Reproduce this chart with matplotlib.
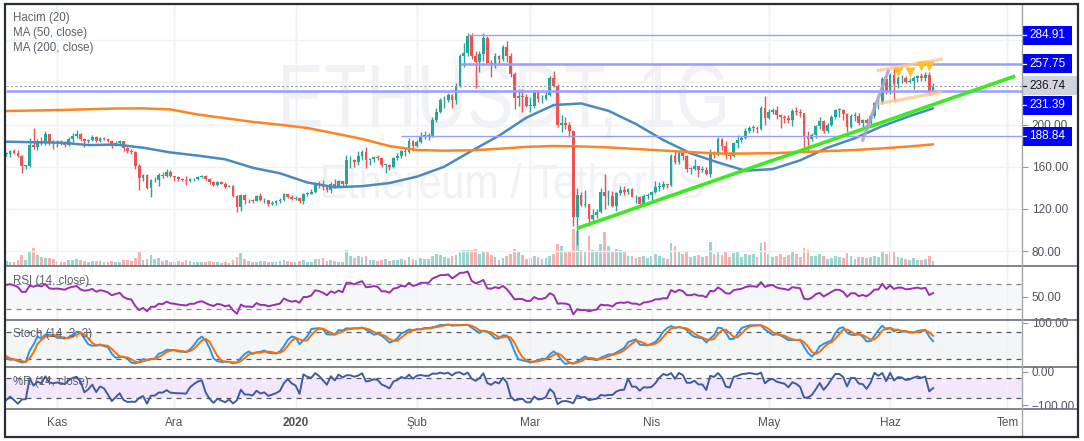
import numpy as np
import pandas as pd
import matplotlib
matplotlib.use("Agg")
import matplotlib.pyplot as plt
import matplotlib.dates as mdates
from matplotlib.patches import Rectangle, PathPatch
from matplotlib.lines import Line2D
from matplotlib.textpath import TextPath
from matplotlib.font_manager import FontProperties
from matplotlib.transforms import Affine2D

plt.rcParams['font.family'] = ['Liberation Sans', 'DejaVu Sans']

# ---- daily ETH/USDT candles, 2019-09-29 .. 2020-06-12 (first 20 days only warm up the indicators)
first_open = 174
close = [169, 180,
         175, 180, 174, 176, 176, 170, 180, 180, 193, 191, 181, 180, 181, 186, 180, 175, 177, 172,
         172, 175, 173, 170, 161, 161, 181, 179, 184, 182, 191, 183, 182,
         183, 182, 181, 186, 189, 191, 186, 184, 185, 188, 184, 187, 186, 184, 180, 182, 184, 178,
         175, 174, 161, 149, 152, 140, 147, 147, 152, 151, 155, 151,
         150, 148, 147, 146, 148, 148, 150, 151, 148, 145, 143, 145, 144, 141, 142, 132, 122, 133,
         128, 128, 127, 132, 128, 128, 125, 126, 127, 128, 134, 131, 129,
         130, 127, 134, 134, 136, 144, 143, 141, 138, 144, 142, 146, 144, 166, 166, 164, 170, 174,
         166, 167, 169, 168, 162, 162, 160, 168, 170, 175, 174, 184, 180,
         183, 189, 189, 189, 204, 212, 223, 223, 228, 223, 237, 265, 268, 284, 265, 259, 267, 282,
         258, 257, 265, 262, 274, 265, 248, 225, 227, 226, 218,
         218, 231, 224, 224, 228, 244, 237, 200, 201, 200, 194, 112, 133, 124, 125, 110, 114, 117,
         136, 132, 132, 123, 135, 138, 136, 139, 131, 131, 125, 132, 133,
         136, 141, 141, 144, 143, 170, 164, 173, 170, 158, 158, 161, 157, 157, 153, 172, 171, 186,
         180, 171, 170, 182, 185, 187, 194, 197, 197, 196, 216, 206,
         212, 214, 209, 207, 206, 204, 213, 212, 211, 188, 186, 190, 199, 203, 194, 200, 207, 214,
         214, 210, 198, 208, 208, 201, 204, 201, 208, 220, 220, 243, 231,
         247, 238, 244, 244, 240, 241, 244, 246, 244, 247, 231, 236.74]
high = [174, 181,
        184, 180, 180, 177, 177, 177, 183, 184, 195, 196, 194, 184, 183, 188, 187, 181, 178, 178,
        174, 176, 177, 176, 171, 162, 187, 197, 186, 188, 194, 191, 185,
        185, 185, 184, 188, 192, 195, 192, 187, 186, 190, 189, 188, 188, 187, 185, 184, 185, 184,
        179, 177, 175, 163, 153, 153, 148, 150, 154, 155, 158, 157,
        151, 151, 149, 151, 149, 149, 151, 152, 152, 149, 146, 146, 146, 145, 143, 143, 133, 134,
        134, 129, 129, 133, 135, 130, 128, 127, 128, 130, 135, 134, 133,
        132, 131, 135, 136, 139, 145, 146, 147, 141, 145, 148, 147, 146, 171, 170, 167, 175, 176,
        179, 168, 170, 171, 168, 163, 163, 169, 173, 176, 177, 187, 185,
        185, 193, 194, 192, 207, 216, 225, 227, 230, 229, 239, 267, 277, 287, 287, 270, 270, 287,
        284, 261, 268, 266, 275, 279, 268, 250, 234, 234, 229,
        226, 233, 233, 228, 232, 246, 251, 238, 209, 207, 202, 195, 140, 136, 138, 125, 120, 120,
        140, 153, 138, 137, 136, 142, 142, 140, 140, 133, 132, 134, 135,
        137, 146, 145, 146, 144, 172, 175, 175, 173, 171, 160, 167, 161, 161, 160, 177, 175, 188,
        187, 184, 174, 183, 190, 189, 197, 199, 200, 199, 218, 227,
        215, 216, 218, 210, 209, 209, 215, 217, 215, 211, 194, 192, 200, 207, 204, 201, 209, 215,
        216, 215, 211, 210, 212, 211, 205, 206, 210, 221, 224, 245, 246,
        249, 254, 246, 247, 246, 244, 246, 247, 249, 250, 250, 239]
low = [166, 165,
       174, 174, 171, 171, 173, 168, 168, 178, 178, 186, 179, 179, 178, 180, 178, 172, 174, 169,
       170, 169, 172, 169, 154, 158, 160, 177, 176, 181, 181, 181, 177,
       179, 181, 179, 180, 183, 187, 184, 179, 182, 184, 183, 183, 185, 183, 178, 180, 181, 175,
       173, 172, 158, 138, 146, 139, 131, 145, 142, 149, 150, 150,
       146, 146, 146, 143, 145, 146, 147, 149, 147, 144, 142, 142, 144, 140, 141, 131, 117, 118,
       125, 126, 126, 127, 127, 126, 123, 124, 124, 126, 127, 130, 128,
       128, 126, 125, 132, 134, 135, 140, 138, 136, 135, 140, 141, 142, 143, 159, 160, 162, 166,
       159, 162, 164, 166, 160, 154, 157, 159, 166, 168, 170, 173, 175,
       179, 182, 186, 185, 188, 202, 211, 216, 221, 216, 219, 236, 255, 265, 262, 235, 250, 260,
       257, 245, 254, 257, 260, 259, 245, 215, 218, 212, 217,
       212, 216, 221, 220, 223, 227, 236, 198, 193, 196, 188, 104, 86, 123, 122, 104, 108, 111,
       116, 120, 124, 122, 118, 133, 133, 134, 131, 126, 124, 124, 129,
       128, 135, 137, 139, 140, 142, 163, 163, 166, 155, 153, 157, 150, 155, 152, 150, 168, 170,
       176, 167, 167, 169, 178, 183, 186, 192, 193, 192, 195, 200,
       205, 210, 205, 197, 201, 201, 199, 209, 207, 177, 174, 184, 187, 196, 192, 192, 199, 205,
       207, 204, 193, 197, 203, 200, 198, 198, 200, 206, 215, 219, 229,
       229, 223, 235, 239, 239, 239, 234, 240, 241, 241, 228, 229]
volume = [6, 8,
          7, 6, 5, 5, 4, 6, 7, 10, 9, 7, 5, 5, 6, 6, 6, 4, 5, 5,
          5, 4, 4, 6, 11, 6, 14, 18, 11, 9, 8, 8, 7,
          5, 4, 4, 6, 6, 7, 6, 5, 4, 5, 5, 5, 4, 4, 5, 4, 4, 6,
          6, 5, 8, 15, 6, 7, 11, 7, 8, 5, 6, 4,
          4, 5, 4, 6, 5, 4, 4, 4, 4, 5, 4, 4, 3, 4, 3, 6, 9, 13,
          7, 5, 4, 4, 5, 5, 4, 4, 4, 5, 6, 5, 4,
          4, 5, 6, 4, 4, 7, 7, 8, 5, 6, 5, 4, 4, 16, 10, 8, 10, 9,
          10, 6, 6, 5, 6, 7, 5, 6, 6, 7, 6, 9, 7,
          6, 8, 7, 7, 10, 12, 11, 9, 8, 10, 11, 15, 16, 16, 16, 17, 12, 14,
          14, 11, 9, 6, 8, 10, 12, 17, 14, 11, 7,
          8, 10, 9, 7, 8, 10, 12, 22, 20, 15, 14, 37, 35, 16, 14, 30, 16, 14,
          22, 34, 20, 14, 17, 16, 14, 10, 10, 8, 9, 10, 8,
          10, 12, 10, 8, 7, 23, 20, 14, 12, 15, 9, 10, 11, 9, 10, 24, 12, 14,
          11, 14, 9, 13, 15, 9, 12, 11, 12, 9, 23, 24,
          12, 9, 10, 12, 9, 11, 14, 12, 9, 18, 16, 10, 10, 12, 10, 7, 8, 10,
          9, 8, 13, 10, 7, 9, 9, 8, 9, 10, 9, 15, 12,
          14, 15, 9, 8, 7, 6, 8, 6, 6, 7, 10, 5]

# moving averages, one point a week
ma50 = [183.7, 183.2, 182.8, 180.5, 181, 178, 173.5, 170.5, 167, 159, 153.7, 145, 140.5, 141.5,
        144.5, 150.5, 160, 175, 189.4, 206.5, 218.5, 220, 213, 200.5, 185.3, 172.7, 164, 156.2,
        157.7, 166, 178, 187, 198.5, 208, 215.4]
ma200 = [212.8, 213.3, 213.8, 214.5, 215.2, 215.3, 214.3, 209.5, 206, 202.5, 199.8, 196.7, 191.6,
         186.3, 179.6, 175.8, 175.2, 175.5, 177, 178.8, 179.6, 179.2, 178.3, 176.8, 175.3, 173.8,
         172.5, 172.5, 172.8, 173.8, 174.8, 175.8, 177.4, 179.2, 181.2]

# drawings on the chart
levels = [284.91, 257.75, 231.39, 188.84]
level_from = ['2020-02-14', '2020-02-12', None, '2020-01-28']
trend_pts = [('2020-03-13', 101.5), ('2020-07-03', 246.0)]
chan_upper = [('2020-05-29', 251.3), ('2020-06-14', 261.9)]
chan_lower = [('2020-05-29', 219.8), ('2020-06-14', 230.6)]
pole_pts = [('2020-05-25', 185.3), ('2020-05-31 12:00', 250.5)]
top_dates = ['2020-06-03', '2020-06-06', '2020-06-09', '2020-06-11']
top_prices = [250.3, 250.3, 255.8, 255.8]

month_ticks = ['2019-11-01', '2019-12-01', '2020-01-01', '2020-02-01', '2020-03-01',
               '2020-04-01', '2020-05-01', '2020-06-01', '2020-07-01']
month_labels = ['Kas', 'Ara', '2020', 'Şub', 'Mar', 'Nis', 'May', 'Haz', 'Tem']

# ---- series
dates = pd.date_range('2019-09-29', periods=len(close), freq='D')
x = mdates.date2num(dates)
c = np.array(close, float)
h = np.array(high, float)
l = np.array(low, float)
o = np.concatenate([[first_open], c[:-1]])
v = np.array(volume, float)
up = c >= o
ma_x = mdates.date2num(list(pd.date_range('2019-10-19', '2020-06-06', freq='7D')) +
                       [pd.Timestamp('2020-06-12')])

cs = pd.Series(c)
d = cs.diff()
gain = d.clip(lower=0).ewm(alpha=1 / 14, adjust=False).mean()
loss = (-d.clip(upper=0)).ewm(alpha=1 / 14, adjust=False).mean()
rsi = 100 - 100 / (1 + gain / loss)
hh = pd.Series(h).rolling(14).max()
ll = pd.Series(l).rolling(14).min()
k_raw = 100 * (cs - ll) / (hh - ll)
stoch_k = k_raw.rolling(3).mean()
stoch_d = stoch_k.rolling(3).mean()
will_r = -100 * (hh - cs) / (hh - ll)

def dn(s):
    return mdates.date2num(pd.Timestamp(s))

# ---- layout in pixels
W, H = 1084, 441
fig = plt.figure(figsize=(W / 100, H / 100), dpi=100)
L, R = 5.5, 1022

def rect(y0, y1, x0=L, x1=R):
    return [x0 / W, 1 - y1 / H, (x1 - x0) / W, (y1 - y0) / H]

ppd = 3.911
xl = dn('2019-10-19') - 0.7 / ppd
xr = xl + (R - L) / ppd
px_per_usd = 1.054
p_top = 80 + (251 - 4) / px_per_usd
p_bot = 80 - (266 - 251) / px_per_usd

grid_c = '#eef1f6'
dash_c = '#858892'
txt_c = '#4f525c'
tick_x = [dn(t) for t in month_ticks]

axv = fig.add_axes(rect(4, 266))
axp = fig.add_axes(rect(4, 266))
ax_rsi = fig.add_axes(rect(266, 320))
ax_st = fig.add_axes(rect(320, 367))
ax_wr = fig.add_axes(rect(367, 409))

for a in (axv, axp, ax_rsi, ax_st, ax_wr):
    a.set_xlim(xl, xr)
    for s in a.spines.values():
        s.set_visible(False)
    a.tick_params(axis='x', length=0, labelbottom=False)
    a.yaxis.tick_right()
    a.tick_params(axis='y', length=4, width=0.8, color='#9598a1', labelsize=8.5,
                  labelcolor=txt_c, pad=3)
    for t in tick_x:
        a.axvline(t, color=grid_c, lw=1, zorder=0)
axv.set_facecolor('white')
axp.set_facecolor('none')

# watermark
def watermark(s, left, right, base, cap):
    fp = FontProperties(family='Liberation Sans')
    tp = TextPath((0, 0), s, size=100, prop=fp)
    ext = tp.get_extents()
    hcap = TextPath((0, 0), 'H', size=100, prop=fp).get_extents().height
    sx = (right - left) / ext.width
    sy = cap / hcap
    tr = (Affine2D().translate(-ext.x0, 0).scale(sx / W, sy / H)
          .translate(left / W, 1 - base / H) + fig.transFigure)
    axv.add_patch(PathPatch(tp, transform=tr, fc='#f0f2f6', ec='none', zorder=0.5))

watermark('ETHUSDT, 1G', 283, 725, 127, 62)
watermark('Ethereum / TetherUS', 323, 703, 198, 33)

# volume
axv.bar(x, v, width=0.7, color=np.where(up, '#26a69a', '#ef5350'), alpha=0.45, lw=0, zorder=2)
axv.set_ylim(0, 262)
axv.set_yticks([])

# price pane
axp.set_ylim(p_bot, p_top)
for yv in (80, 120, 160, 200, 240, 280):
    axp.axhline(yv, color=grid_c, lw=1, zorder=0)
axp.set_yticks([80, 120, 160, 200])
axp.set_yticklabels(['80.00', '120.00', '160.00', '200.00'])
col = np.where(up, '#26a69a', '#ef5350')
axp.vlines(x, l, h, colors=col, lw=1.0, zorder=3)
body = np.maximum(np.abs(c - o), 0.6)
axp.bar(x, body, width=0.7, bottom=np.minimum(o, c), color=col, lw=0, zorder=3)
axp.plot(ma_x, ma50, color='#4a8abf', lw=1.8, zorder=4, solid_capstyle='round')
axp.plot(ma_x, ma200, color='#ff8420', lw=1.8, zorder=4, solid_capstyle='round')

for val, start in zip(levels, level_from):
    x0 = xl if start is None else dn(start)
    lw = 1.8 if val in (257.75, 231.39) else 1.0
    axp.hlines(val, x0, xr, color='#9a9cff', lw=lw, zorder=5)
axp.axhline(c[-1], color='#9a9ca5', lw=0.8, ls=(0, (2, 2)), zorder=5)

axp.plot([dn(p[0]) for p in trend_pts], [p[1] for p in trend_pts], color='#3ee824', lw=2.6,
         zorder=6, solid_capstyle='butt')
for seg in (chan_upper, chan_lower):
    axp.plot([dn(p[0]) for p in seg], [p[1] for p in seg], color='#ffc78f', lw=2.4,
             alpha=0.8, zorder=6)
axp.plot([dn(p[0]) for p in pole_pts], [p[1] for p in pole_pts], color='#a9a3d6', lw=2.4,
         alpha=0.85, zorder=6)
axp.plot([dn(t) for t in top_dates], top_prices, ls='none', marker='v', ms=6.5,
         color='#ffc02a', mec='none', zorder=7)

# RSI
ax_rsi.set_ylim(12.4, 98.8)
ax_rsi.axhspan(30, 70, color='#f6f7f8', lw=0, zorder=0)
for t in tick_x:
    ax_rsi.axvline(t, color=grid_c, lw=1, zorder=0.5)
for yv in (70, 30):
    ax_rsi.axhline(yv, color=dash_c, lw=0.9, ls=(0, (4, 4)), zorder=1)
ax_rsi.plot(x, rsi, color='#9a2fae', lw=1.4, zorder=3)
ax_rsi.set_yticks([50])
ax_rsi.set_yticklabels(['50.00'])

# Stochastic
ax_st.set_ylim(1.6, 106)
ax_st.axhspan(20, 80, color='#f4f5f7', lw=0, zorder=0)
for t in tick_x:
    ax_st.axvline(t, color=grid_c, lw=1, zorder=0.5)
for yv in (80, 20):
    ax_st.axhline(yv, color='#555862', lw=0.9, ls=(0, (4, 4)), zorder=1)
ax_st.plot(x, stoch_k, color='#2196f3', lw=1.4, zorder=3)
ax_st.plot(x, stoch_d, color='#ff6d00', lw=1.4, zorder=3)
ax_st.set_yticks([100])
ax_st.set_yticklabels(['100.00'])

# Williams %R
ax_wr.set_ylim(-112, 14)
ax_wr.axhspan(-80, -20, color='#f3e8fb', lw=0, zorder=0)
for t in tick_x:
    ax_wr.axvline(t, color=grid_c, lw=1, zorder=0.5)
for yv in (-20, -80):
    ax_wr.axhline(yv, color='#555862', lw=0.9, ls=(0, (4, 4)), zorder=1)
ax_wr.plot(x, will_r, color='#3d5ba6', lw=1.4, zorder=3)
ax_wr.set_yticks([0, -100])
ax_wr.set_yticklabels(['0.00', '\u2212100.00'])

# pane titles
def ftext(px, py, s, **kw):
    fig.text(px / W, 1 - py / H, s, **kw)

for yy, s in ((18, 'Hacim (20)'), (33, 'MA (50, close)'), (48, 'MA (200, close)'),
              (281, 'RSI (14, close)'), (334, 'Stoch (14, 3, 3)'), (382, '%R (14, close)')):
    ftext(13, yy, s, fontsize=8.3, color='#5d606b', va='center', ha='left', zorder=2)

# time axis strip (covers the bottom of the lowest label)
fig.add_artist(Rectangle((L / W, 1 - 437 / H), (1078 - L) / W, (437 - 409) / H,
                         transform=fig.transFigure, fc='white', ec='none', zorder=3))
for t, lab in zip(tick_x, month_labels):
    xp = axp.transData.transform((t, 100))[0]
    ftext(xp, 423, lab, fontsize=8.5, color=txt_c, ha='center', va='center',
          fontweight='bold' if lab == '2020' else 'normal', zorder=4)

# price badges on the right scale
def badge(val, shift, fc, tc, right=1072):
    yp = H - axp.transData.transform((xl, val))[1] + shift
    fig.add_artist(Rectangle((R / W, 1 - (yp + 9.5) / H), (right - R) / W, 19 / H,
                             transform=fig.transFigure, fc=fc, ec='none', zorder=5))
    fig.add_artist(Line2D([R / W, (R + 4) / W], [1 - yp / H] * 2, transform=fig.transFigure,
                          color=tc, lw=0.9, zorder=6))
    ftext(1029, yp, f'{val:.2f}', fontsize=8.5, color=tc, ha='left', va='center', zorder=6)

badge(levels[0], 0, '#0000ff', 'white')
badge(levels[1], 0, '#0000ff', 'white')
badge(c[-1], 0, '#d1d4dc', '#131722', right=1077)
badge(levels[2], 14, '#0000ff', 'white')
badge(levels[3], 0, '#0000ff', 'white')

# separators and frame
for yy in (266, 320, 367, 409):
    fig.add_artist(Line2D([5 / W, 1078 / W], [1 - yy / H] * 2, transform=fig.transFigure,
                          color='#6b6e78', lw=1.2, zorder=7))
fig.add_artist(Line2D([R / W] * 2, [1 - 4 / H, 1 - 437 / H], transform=fig.transFigure,
                      color='#a3a6af', lw=1.0, zorder=7))
fig.add_artist(Rectangle((5 / W, 1 - 437 / H), 1073 / W, 433 / H, transform=fig.transFigure,
                         fc='none', ec='#2a2e39', lw=1.6, zorder=8))

fig.savefig('out.png', dpi=100, facecolor='white')
